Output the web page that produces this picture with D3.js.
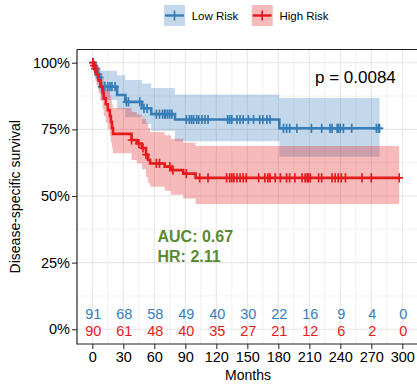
<!DOCTYPE html>
<html>
<head>
<meta charset="utf-8">
<script src="https://cdn.jsdelivr.net/npm/d3@7"></script>
<style>
  body { margin: 0; background: #fff; }
  text { font-family: "Liberation Sans", Arial, sans-serif; }
</style>
</head>
<body>
<div id="chart"></div>
<script>
// Low Risk stratum: step times, survival and confidence band
const lowTime  = [0, 2, 3, 4, 5, 6, 8, 24, 32, 48, 57, 80, 181, 278];
const lowSurv  = [1, 0.989, 0.978, 0.967, 0.956, 0.945, 0.91, 0.879, 0.853, 0.829, 0.807, 0.787, 0.754, 0.754];
const lowUpper = [1, 1, 1, 0.995, 0.99, 0.985, 0.97, 0.953, 0.935, 0.922, 0.905, 0.881, 0.868, 0.868];
const lowLower = [1, 0.967, 0.95, 0.935, 0.92, 0.9, 0.86, 0.825, 0.795, 0.77, 0.745, 0.705, 0.647, 0.647];
const lowCensor = [1, 3.5, 5.5, 7, 9, 12, 15, 17, 19, 22, 33, 35, 46, 50, 53,
  62, 65, 68, 70, 71, 73, 75, 77, 91, 94, 96, 98, 101, 103, 106, 109, 112,
  131, 133, 135, 140, 143, 146, 151, 156, 162, 165, 169, 172,
  185, 188, 191, 198, 212, 222, 230, 232, 237, 238, 240, 243, 251, 275, 277, 278];

// High Risk stratum
const highTime  = [0, 1, 2, 3, 4, 6, 8, 10, 11, 13, 15, 17, 18, 19, 20, 38, 43, 48, 52, 54, 56, 70, 76, 88, 100, 297];
const highSurv  = [1, 0.989, 0.978, 0.967, 0.956, 0.933, 0.91, 0.887, 0.866, 0.844, 0.822, 0.8, 0.778, 0.755, 0.733,
  0.71, 0.697, 0.68, 0.655, 0.635, 0.622, 0.61, 0.597, 0.584, 0.568, 0.568];
const highUpper = [1, 1, 1, 0.995, 0.99, 0.975, 0.96, 0.945, 0.93, 0.912, 0.895, 0.878, 0.86, 0.842, 0.83,
  0.815, 0.805, 0.79, 0.773, 0.755, 0.74, 0.728, 0.715, 0.7, 0.688, 0.688];
const highLower = [1, 0.967, 0.95, 0.93, 0.915, 0.885, 0.855, 0.825, 0.8, 0.775, 0.75, 0.725, 0.7, 0.68, 0.66,
  0.635, 0.622, 0.6, 0.57, 0.548, 0.535, 0.52, 0.505, 0.491, 0.47, 0.47];
const highCensor = [0.5, 1.5, 2.5, 38, 45, 49, 52, 62, 65, 75, 78, 91, 104, 112, 130, 133, 135, 137, 140, 143, 146, 149,
  161, 167, 170, 172, 177, 182, 188, 191, 196, 203, 206, 208, 209, 211, 219, 222, 232, 235, 238, 241, 245, 261, 270, 297];

// number at risk table
const riskTimes = [0, 30, 60, 90, 120, 150, 180, 210, 240, 270, 300];
const lowRisk  = [91, 68, 58, 49, 40, 30, 22, 16, 9, 4, 0];
const highRisk = [90, 61, 48, 40, 35, 27, 21, 12, 6, 2, 0];

const yTicks = [0, 0.25, 0.5, 0.75, 1];
const yMinor = [0.125, 0.375, 0.625, 0.875];
const xMinor = [15, 45, 75, 105, 135, 165, 195, 225, 255, 285];

const groups = [
  { name: "Low Risk", color: "#377EB8", time: lowTime, surv: lowSurv, upper: lowUpper, lower: lowLower, censor: lowCensor, risk: lowRisk },
  { name: "High Risk", color: "#E41A1C", time: highTime, surv: highSurv, upper: highUpper, lower: highLower, censor: highCensor, risk: highRisk }
];

const W = 417, H = 387;
const panel = { left: 77, right: 418, top: 49.5, bottom: 344 };

const svg = d3.select("#chart").append("svg")
  .attr("width", W).attr("height", H);

const x = d3.scaleLinear().domain([0, 300]).range([92.3, 402.3]);
const y = d3.scaleLinear().domain([0, 1]).range([329.3, 62.7]);

// grid
const grid = svg.append("g");
grid.selectAll(".xminor").data(xMinor).join("line")
  .attr("x1", d => x(d)).attr("x2", d => x(d))
  .attr("y1", panel.top).attr("y2", panel.bottom)
  .attr("stroke", "#eeeeee").attr("stroke-width", 0.8);
grid.selectAll(".yminor").data(yMinor).join("line")
  .attr("x1", panel.left).attr("x2", panel.right)
  .attr("y1", d => y(d)).attr("y2", d => y(d))
  .attr("stroke", "#eeeeee").attr("stroke-width", 0.8);
grid.selectAll(".xmajor").data(riskTimes).join("line")
  .attr("x1", d => x(d)).attr("x2", d => x(d))
  .attr("y1", panel.top).attr("y2", panel.bottom)
  .attr("stroke", "#e6e6e6").attr("stroke-width", 1.1);
grid.selectAll(".ymajor").data(yTicks).join("line")
  .attr("x1", panel.left).attr("x2", panel.right)
  .attr("y1", d => y(d)).attr("y2", d => y(d))
  .attr("stroke", "#e6e6e6").attr("stroke-width", 1.1);

// confidence bands
const area = d3.area()
  .x(d => x(d.t)).y0(d => y(d.lo)).y1(d => y(d.hi))
  .curve(d3.curveStepAfter);
const line = d3.line()
  .x(d => x(d.t)).y(d => y(d.s))
  .curve(d3.curveStepAfter);

groups.forEach(g => {
  g.rows = g.time.map((t, i) => ({ t: t, s: g.surv[i], hi: g.upper[i], lo: g.lower[i] }));
});

groups.forEach(g => {
  svg.append("path").datum(g.rows)
    .attr("d", area)
    .attr("fill", g.color).attr("fill-opacity", 0.3);
});

function survAt(g, t) {
  let s = 1;
  g.time.forEach((tt, i) => { if (tt <= t) s = g.surv[i]; });
  return s;
}

groups.forEach(g => {
  svg.append("path").datum(g.rows)
    .attr("d", line)
    .attr("fill", "none").attr("stroke", g.color).attr("stroke-width", 2.6);
  svg.append("g").selectAll("path").data(g.censor).join("path")
    .attr("transform", d => `translate(${x(d)},${y(survAt(g, d))})`)
    .attr("d", "M-3.8,0H3.8M0,-4.6V4.6")
    .attr("stroke", g.color).attr("stroke-width", 1.7).attr("fill", "none");
});

// axes
const yAxis = d3.axisLeft(y).tickValues(yTicks).tickSize(5).tickPadding(2)
  .tickFormat(d => Math.round(d * 100) + "%");
const yAxisG = svg.append("g").attr("transform", `translate(${panel.left},0)`).call(yAxis);
yAxisG.select(".domain").remove();

const xAxis = d3.axisBottom(x).tickValues(riskTimes).tickSize(5).tickPadding(2.5);
const xAxisG = svg.append("g").attr("transform", `translate(0,${panel.bottom})`).call(xAxis);
xAxisG.select(".domain").remove();

[yAxisG, xAxisG].forEach(a => {
  a.selectAll("text").style("font-size", "14.5px").attr("fill", "#000")
    .style("font-family", '"Liberation Sans", Arial, sans-serif');
  a.selectAll("line").attr("stroke", "#333").attr("stroke-width", 1.1);
});

// panel lines
svg.append("line").attr("x1", panel.left).attr("x2", panel.left)
  .attr("y1", panel.top).attr("y2", panel.bottom + 0.5)
  .attr("stroke", "#222").attr("stroke-width", 1.2);
svg.append("line").attr("x1", panel.left).attr("x2", panel.right)
  .attr("y1", panel.bottom).attr("y2", panel.bottom)
  .attr("stroke", "#222").attr("stroke-width", 1.2);
svg.append("line").attr("x1", panel.left).attr("x2", panel.right)
  .attr("y1", panel.top).attr("y2", panel.top)
  .attr("stroke", "#222").attr("stroke-width", 1.2);

// risk numbers
svg.append("g").selectAll("text").data(lowRisk).join("text")
  .attr("x", (d, i) => x(riskTimes[i]) + 1).attr("y", 318.5)
  .attr("text-anchor", "middle").style("font-size", "14.5px")
  .attr("fill", groups[0].color).text(d => d);
svg.append("g").selectAll("text").data(highRisk).join("text")
  .attr("x", (d, i) => x(riskTimes[i]) + 1).attr("y", 335.5)
  .attr("text-anchor", "middle").style("font-size", "14.5px")
  .attr("fill", groups[1].color).text(d => d);

// annotations
svg.append("text").attr("x", 315).attr("y", 82.5)
  .style("font-size", "17px").attr("fill", "#000").text("p = 0.0084");
svg.append("text").attr("x", 157.5).attr("y", 241.7)
  .style("font-size", "16px").style("font-weight", "bold")
  .attr("fill", "#5b8a33").text("AUC: 0.67");
svg.append("text").attr("x", 157.5).attr("y", 261.7)
  .style("font-size", "16px").style("font-weight", "bold")
  .attr("fill", "#5b8a33").text("HR: 2.11");

// axis titles
svg.append("text").attr("x", 248).attr("y", 380)
  .attr("text-anchor", "middle").style("font-size", "14px").text("Months");
svg.append("text")
  .attr("transform", `translate(20,${(panel.top + panel.bottom) / 2}) rotate(-90)`)
  .attr("text-anchor", "middle").style("font-size", "14px")
  .text("Disease-specific survival");

// legend
const legendX = [164, 251.7];
groups.forEach((g, i) => {
  const lg = svg.append("g").attr("transform", `translate(${legendX[i]},5)`);
  lg.append("rect").attr("width", 21).attr("height", 21)
    .attr("fill", g.color).attr("fill-opacity", 0.3);
  lg.append("line").attr("x1", 1).attr("x2", 20).attr("y1", 10.5).attr("y2", 10.5)
    .attr("stroke", g.color).attr("stroke-width", 2.4);
  lg.append("line").attr("x1", 10.5).attr("x2", 10.5).attr("y1", 5.5).attr("y2", 15.5)
    .attr("stroke", g.color).attr("stroke-width", 1.7);
  lg.append("text").attr("x", 27.7).attr("y", 15)
    .style("font-size", "11.5px").attr("fill", "#000").text(g.name);
});
</script>
</body>
</html>
